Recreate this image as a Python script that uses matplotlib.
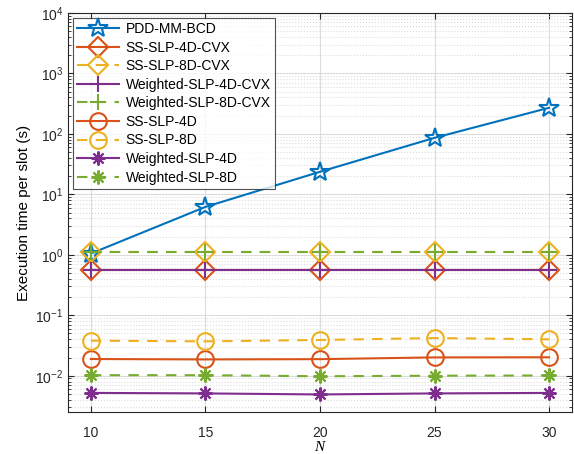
import numpy as np
import matplotlib
matplotlib.use("Agg")
import matplotlib.pyplot as plt
from matplotlib.ticker import LogLocator, NullFormatter

plt.rcParams["font.family"] = ["Liberation Sans", "DejaVu Sans"]
plt.rcParams["mathtext.fontset"] = "custom"
plt.rcParams["mathtext.rm"] = "Liberation Sans"
plt.rcParams["mathtext.it"] = "Liberation Serif:italic"

# MATLAB default colour order
C_BLUE = "#0072BD"
C_ORANGE = "#D95319"
C_YELLOW = "#EDB120"
C_PURPLE = "#7E2F8E"
C_GREEN = "#77AC30"

# ---------------------------------------------------------------- data
N = [10, 15, 20, 25, 30]
pdd_mm_bcd = [1.05, 6.2, 23.6, 86, 270]
ss_slp_4d_cvx = [0.55, 0.55, 0.55, 0.55, 0.55]
ss_slp_8d_cvx = [1.1, 1.1, 1.1, 1.1, 1.1]
w_slp_4d_cvx = [0.55, 0.55, 0.55, 0.55, 0.55]
w_slp_8d_cvx = [1.1, 1.1, 1.1, 1.1, 1.1]
ss_slp_4d = [0.0189, 0.0186, 0.0188, 0.0201, 0.0202]
ss_slp_8d = [0.038, 0.037, 0.039, 0.042, 0.040]
w_slp_4d = [0.0052, 0.0051, 0.0049, 0.0051, 0.0052]
w_slp_8d = [0.0102, 0.0102, 0.0098, 0.0100, 0.0101]

ASTER = (8, 2, 0)   # MATLAB '*' = plus + cross

series = [
    ("PDD-MM-BCD", pdd_mm_bcd, C_BLUE, "-", "*", 15),
    ("SS-SLP-4D-CVX", ss_slp_4d_cvx, C_ORANGE, "-", "D", 10),
    ("SS-SLP-8D-CVX", ss_slp_8d_cvx, C_YELLOW, "--", "D", 10),
    ("Weighted-SLP-4D-CVX", w_slp_4d_cvx, C_PURPLE, "-", "+", 11),
    ("Weighted-SLP-8D-CVX", w_slp_8d_cvx, C_GREEN, "--", "+", 11),
    ("SS-SLP-4D", ss_slp_4d, C_ORANGE, "-", "o", 12),
    ("SS-SLP-8D", ss_slp_8d, C_YELLOW, "--", "o", 12),
    ("Weighted-SLP-4D", w_slp_4d, C_PURPLE, "-", ASTER, 10),
    ("Weighted-SLP-8D", w_slp_8d, C_GREEN, "--", ASTER, 10),
]

# ---------------------------------------------------------------- figure
fig = plt.figure(figsize=(5.74, 4.54), dpi=100)
ax = fig.add_axes([0.1185, 0.0925, 0.878, 0.879])

for label, vals, color, ls, mk, ms in series:
    kw = dict(color=color, linestyle=ls, linewidth=1.5, marker=mk, markersize=ms,
              markerfacecolor="none", markeredgewidth=1.5, label=label)
    if ls == "--":
        kw["dashes"] = (5, 4)
    ax.plot(N, vals, **kw)

ax.set_yscale("log")
ax.set_xlim(9, 31)
ax.set_ylim(10 ** -2.6, 1e4)
ax.set_xticks(N)
ax.yaxis.set_major_locator(LogLocator(base=10, numticks=10))
ax.yaxis.set_minor_locator(LogLocator(base=10, subs=np.arange(2, 10), numticks=20))
ax.yaxis.set_minor_formatter(NullFormatter())

ax.grid(which="major", color="#dcdcdc", linewidth=0.8)
ax.grid(which="minor", axis="y", color="#dcdcdc", linestyle=":", linewidth=0.8)
ax.set_axisbelow(True)

ax.tick_params(which="both", direction="in", top=True, right=True,
               colors="#262626", labelsize=10)
ax.tick_params(which="major", length=4)
ax.tick_params(which="minor", length=2)
ax.tick_params(axis="x", pad=10)
for sp in ax.spines.values():
    sp.set_color("#262626")
    sp.set_linewidth(0.8)

ax.set_xlabel("$N$", fontsize=11, labelpad=0)
ax.set_ylabel("Execution time per slot (s)", fontsize=11, labelpad=3)

leg = ax.legend(loc="upper left", fontsize=10, frameon=True, fancybox=False,
                handlelength=3.0, labelspacing=0.33, borderpad=0.3,
                handletextpad=0.5, borderaxespad=0.35)
leg.get_frame().set_edgecolor("#262626")
leg.get_frame().set_linewidth(0.8)

fig.savefig("out.png", dpi=100)
